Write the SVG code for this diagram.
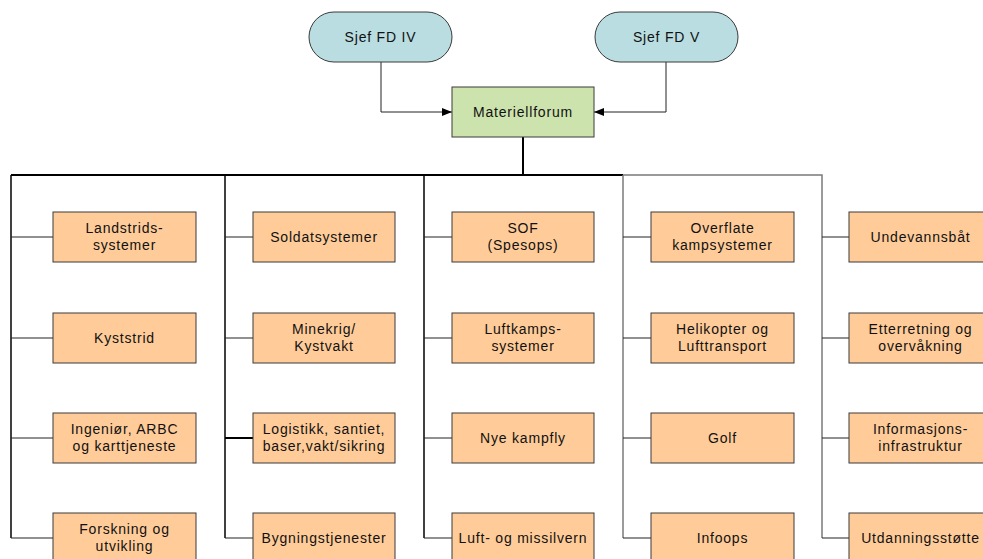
<svg xmlns="http://www.w3.org/2000/svg" width="983" height="559" viewBox="0 0 983 559">
<style>
text{font-family:"Liberation Sans",Arial,sans-serif;font-size:14px;letter-spacing:0.8px;fill:#111;text-anchor:middle}
.box{fill:#FFCC99;stroke:#3a3a3a;stroke-width:1}
.pill{fill:#B9DDE1;stroke:#3a3a3a;stroke-width:1}
.mf{fill:#CDE3AD;stroke:#3a3a3a;stroke-width:1}
.blk{stroke:#000;fill:none}
.gry{stroke:#7a7a7a;fill:none}
.br{stroke:#222;stroke-width:1;fill:none}
</style>
<defs>
<marker id="ah" markerWidth="10" markerHeight="8" refX="10" refY="4" orient="auto" markerUnits="userSpaceOnUse">
<path d="M0,0 L10,4 L0,8 Z" fill="#000"/>
</marker>
</defs>
<g id="connectors">
<path class="br" d="M381,62 V112 H452" marker-end="url(#ah)"/>
<path class="br" d="M666,62 V112 H594" marker-end="url(#ah)"/>
<path class="blk" stroke-width="2" d="M523,137 V175"/>
<path class="blk" stroke-width="2" d="M11,175 H623"/>
<path class="gry" stroke-width="1.5" d="M623,175 H822 V538"/>
<path class="gry" stroke-width="1.5" d="M623,175 V538"/>
<path class="blk" stroke-width="1.5" d="M11,175 V538"/>
<path class="blk" stroke-width="1.5" d="M225,175 V538"/>
<path class="blk" stroke-width="1.5" d="M424,175 V538"/>
<path class="br" d="M11,237 H53 M11,338 H53 M11,438 H53 M11,538 H53"/>
<path class="br" d="M225,237 H253 M225,338 H253 M225,538 H253"/>
<path class="blk" stroke-width="2" d="M225,438 H253"/>
<path class="br" d="M424,237 H452 M424,338 H452 M424,438 H452 M424,538 H452"/>
<path class="br" d="M623,237 H651 M623,338 H651 M623,438 H651 M623,538 H651"/>
<path class="br" d="M822,237 H849 M822,338 H849 M822,438 H849 M822,538 H849"/>
</g>
<g id="sjef-fd-iv"><rect class="pill" x="309" y="12" width="143" height="50" rx="25"/><text x="380.5" y="42">Sjef FD IV</text></g>
<g id="sjef-fd-v"><rect class="pill" x="595" y="12" width="143" height="50" rx="25"/><text x="666.5" y="42">Sjef FD V</text></g>
<g id="materiellforum"><rect class="mf" x="452" y="87" width="142" height="50"/><text x="523" y="117">Materiellforum</text></g>

<g id="landstrids"><rect class="box" x="53" y="212" width="143" height="50"/><text x="124.5" y="233">Landstrids-</text><text x="124.5" y="250">systemer</text></g>
<g id="kyststrid"><rect class="box" x="53" y="313" width="143" height="50"/><text x="124.5" y="343">Kyststrid</text></g>
<g id="ingenior"><rect class="box" x="53" y="413" width="143" height="50"/><text x="124.5" y="434">Ingeniør, ARBC</text><text x="124.5" y="451">og karttjeneste</text></g>
<g id="forskning"><rect class="box" x="53" y="513" width="143" height="50"/><text x="124.5" y="534">Forskning og</text><text x="124.5" y="551">utvikling</text></g>

<g id="soldatsystemer"><rect class="box" x="253" y="212" width="142" height="50"/><text x="324" y="242">Soldatsystemer</text></g>
<g id="minekrig"><rect class="box" x="253" y="313" width="142" height="50"/><text x="324" y="334">Minekrig/</text><text x="324" y="351">Kystvakt</text></g>
<g id="logistikk"><rect class="box" x="253" y="413" width="142" height="50"/><text x="324" y="434">Logistikk, santiet,</text><text x="324" y="451">baser,vakt/sikring</text></g>
<g id="bygningstjenester"><rect class="box" x="253" y="513" width="142" height="50"/><text x="324" y="543">Bygningstjenester</text></g>

<g id="sof"><rect class="box" x="452" y="212" width="142" height="50"/><text x="523" y="233">SOF</text><text x="523" y="250">(Spesops)</text></g>
<g id="luftkamps"><rect class="box" x="452" y="313" width="142" height="50"/><text x="523" y="334">Luftkamps-</text><text x="523" y="351">systemer</text></g>
<g id="nye-kampfly"><rect class="box" x="452" y="413" width="142" height="50"/><text x="523" y="443">Nye kampfly</text></g>
<g id="luft-missilvern"><rect class="box" x="452" y="513" width="142" height="50"/><text x="523" y="543">Luft- og missilvern</text></g>

<g id="overflate"><rect class="box" x="651" y="212" width="143" height="50"/><text x="722.5" y="233">Overflate</text><text x="722.5" y="250">kampsystemer</text></g>
<g id="helikopter"><rect class="box" x="651" y="313" width="143" height="50"/><text x="722.5" y="334">Helikopter og</text><text x="722.5" y="351">Lufttransport</text></g>
<g id="golf"><rect class="box" x="651" y="413" width="143" height="50"/><text x="722.5" y="443">Golf</text></g>
<g id="infoops"><rect class="box" x="651" y="513" width="143" height="50"/><text x="722.5" y="543">Infoops</text></g>

<g id="undevannsbat"><rect class="box" x="849" y="212" width="143" height="50"/><text x="920.5" y="242">Undevannsbåt</text></g>
<g id="etterretning"><rect class="box" x="849" y="313" width="143" height="50"/><text x="920.5" y="334">Etterretning og</text><text x="920.5" y="351">overvåkning</text></g>
<g id="informasjon"><rect class="box" x="849" y="413" width="143" height="50"/><text x="920.5" y="434">Informasjons-</text><text x="920.5" y="451">infrastruktur</text></g>
<g id="utdanning"><rect class="box" x="849" y="513" width="143" height="50"/><text x="920.5" y="543">Utdanningsstøtte</text></g>
</svg>
